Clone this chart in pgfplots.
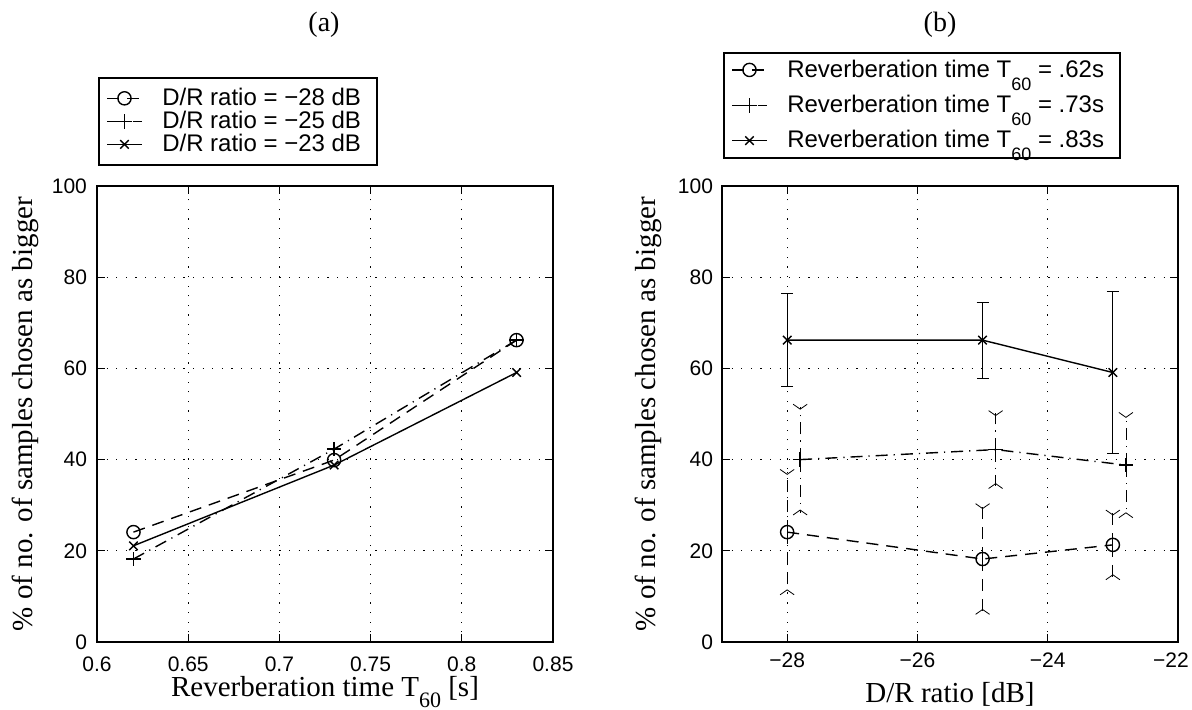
\documentclass[border=0pt]{standalone}
\usepackage{fontspec}
\setmainfont{Liberation Serif}
\setsansfont{Liberation Sans}
\usepackage{pgfplots}
\pgfplotsset{compat=1.18}

\pgfdeclareplotmark{chev}{%
  \pgfpathmoveto{\pgfqpoint{0.7\pgfplotmarksize}{\pgfplotmarksize}}%
  \pgfpathlineto{\pgfqpoint{0pt}{0pt}}%
  \pgfpathlineto{\pgfqpoint{0.7\pgfplotmarksize}{-\pgfplotmarksize}}%
  \pgfusepathqstroke}

\newcommand{\subsf}[1]{\raisebox{-6.5pt}{\fontsize{9}{10}\selectfont #1}}
\newcommand{\lblfont}{\rmfamily\fontsize{14.5}{16}\selectfont}

\pgfplotsset{
  myax/.style={
    scale only axis, width=228pt, height=228pt,
    ymin=0, ymax=100, ytick={0,20,40,60,80,100},
    yticklabels={0,20,40,60,80,100},
    grid=major,
    grid style={line width=0.5pt, black, dash pattern=on 0.6pt off 4.2pt},
    axis line style={line width=0.9pt},
    tick style={line width=0.6pt, black},
    major tick length=4pt,
    tick align=inside,
    ticklabel style={font=\sffamily\fontsize{10.5}{12}\selectfont},
    yticklabel style={xshift=-1.5pt},
    ylabel={\% of no. of samples chosen as bigger},
    every axis y label/.style={at={(axis description cs:-0.158,0.5)}, rotate=90, anchor=center, font=\lblfont},
    every axis x label/.style={at={(axis description cs:0.5,0)}, anchor=base, font=\lblfont},
    legend style={font=\sffamily\fontsize{12}{14}\selectfont, draw=black, line width=0.8pt,
      inner xsep=4pt, column sep=6pt, nodes={inner ysep=1pt, inner xsep=4pt}},
    legend cell align=left,
  },
  s1/.style={black, line width=0.7pt, dash pattern=on 6pt off 4pt, mark=o, mark size=3.3pt, mark options={solid}},
  s2/.style={black, line width=0.7pt, dash pattern=on 6pt off 3pt on 0.6pt off 3pt, mark=+, mark size=3.6pt, mark options={solid}},
  s3/.style={black, line width=0.7pt, solid, mark=x, mark size=3pt, mark options={solid}},
}

\begin{document}
\begin{tikzpicture}
\useasboundingbox (0,0) rectangle (596pt,354.5pt);
\node[font=\rmfamily\fontsize{14}{16}\selectfont] at (162pt,342pt) {(a)};
\node[font=\rmfamily\fontsize{14}{16}\selectfont] at (470pt,342pt) {(b)};

\begin{axis}[myax, at={(48.5pt,33.5pt)}, anchor=south west,
  xmin=0.6, xmax=0.85,
  xtick={0.6,0.65,0.7,0.75,0.8,0.85},
  xticklabels={0.6,0.65,0.7,0.75,0.8,0.85},
  xticklabel style={yshift=-4pt},
  xlabel={Reverberation time T\raisebox{-5.5pt}{\fontsize{11}{12}\selectfont 60} [s]},
  x label style={yshift=-27pt},
  legend style={at={(0.002,1.239)}, anchor=north west, inner ysep=4.5pt,
    nodes={text height=8.2pt, text depth=1.3pt}},
]
\addplot[s1] coordinates {(0.62,24.1) (0.73,39.9) (0.83,66.2)};
\addlegendentry{D/R ratio = −28 dB}
\addplot[s2] coordinates {(0.62,18.2) (0.73,42.3) (0.83,66.2)};
\addlegendentry{D/R ratio = −25 dB}
\addplot[s3] coordinates {(0.62,21.1) (0.73,38.8) (0.83,59.1)};
\addlegendentry{D/R ratio = −23 dB}
\end{axis}

\begin{axis}[myax, at={(361pt,33.5pt)}, anchor=south west,
  xmin=-29, xmax=-22,
  xtick={-28,-26,-24,-22},
  xticklabels={−28,−26,−24,{\kern-7pt−22}},
  xticklabel style={yshift=-2pt},
  yticklabel style={xshift=0.5pt},
  xlabel={D/R ratio [dB]},
  x label style={yshift=-30pt},
  every axis y label/.style={at={(axis description cs:-0.162,0.5)}, rotate=90, anchor=center, font=\lblfont},
  legend style={at={(0.002,1.294)}, anchor=north west, inner ysep=2.5pt, row sep=5.5pt},
]
\addplot[s1, error bars/.cd, y dir=both, y explicit, error mark=chev,
  error mark options={solid, mark size=3.5pt}]
  coordinates {(-28,24.1) +- (0,13.2) (-25,18.2) +- (0,11.6) (-23,21.3) +- (0,7.1)};
\addlegendentry{Reverberation time T\subsf{60} = .62s}
\addplot[s2, error bars/.cd, y dir=both, y explicit, error mark=chev,
  error mark options={solid, mark size=3.5pt}]
  coordinates {(-27.8,40.0) +- (0,11.6) (-24.8,42.2) +- (0,8.0) (-22.8,38.8) +- (0,11.0)};
\addlegendentry{Reverberation time T\subsf{60} = .73s}
\addplot[s3, error bars/.cd, y dir=both, y explicit, error mark=|,
  error mark options={solid, mark size=3pt}]
  coordinates {(-28,66.2) +- (0,10.2) (-25,66.2) +- (0,8.3) (-23,59.1) +- (0,17.7)};
\addlegendentry{Reverberation time T\subsf{60} = .83s}
\end{axis}
\end{tikzpicture}
\end{document}
